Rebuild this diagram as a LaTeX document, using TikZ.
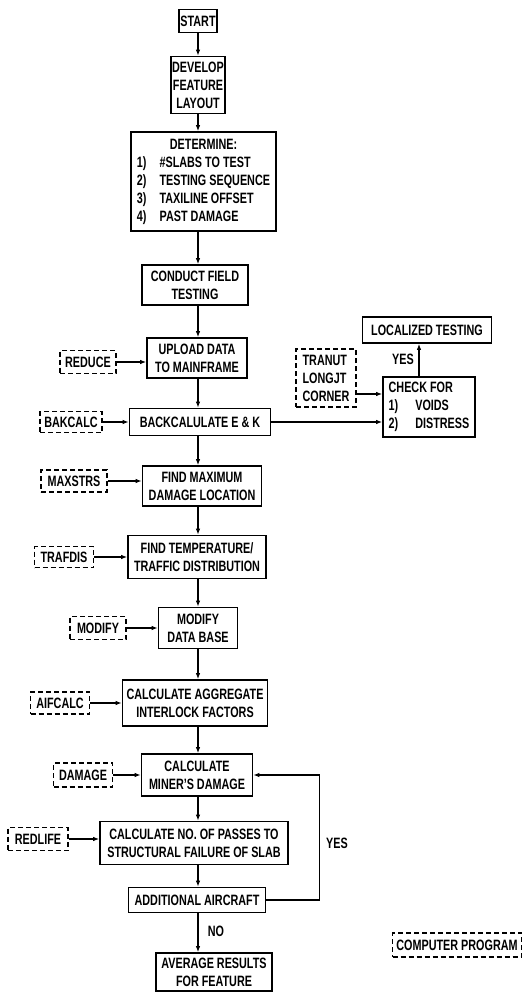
\documentclass[tikz,border=0pt]{standalone}
\usepackage{fontspec}
\setmainfont{Liberation Sans}[FakeStretch=0.72]
\usetikzlibrary{arrows.meta,positioning}
\newcommand{\chartfont}{\fontsize{15}{18}\selectfont\bfseries}
\tikzset{
  proc/.style    = {rectangle, draw, line width=1.7pt, align=center,
                    inner sep=1.5pt, font=\chartfont},
  prog/.style    = {proc, dash pattern=on 5pt off 3pt},
  boxsize/.style 2 args = {minimum width=#1, minimum height=#2},
  lbl/.style     = {font=\chartfont, inner sep=0pt},
  arr/.style     = {-{Latex[length=6pt,width=4.5pt]}, line width=1.1pt}
}

\begin{document}
\begin{tikzpicture}[x=1pt, y=-1pt]
  \useasboundingbox (0,0) rectangle (524,992);
  % main column
  \node[proc, boxsize={36pt}{23pt}] (start) at (198,21) {START};
  \node[proc, boxsize={51pt}{57pt}] (develop) at (198,85) {DEVELOP\\FEATURE\\LAYOUT};
  \node[proc, boxsize={145pt}{99pt}] (determine) at (203.5,181.5)
       {\begin{tabular}{@{}l@{\hspace{13pt}}l@{}}
        \multicolumn{2}{c}{DETERMINE:}\\
        1) & \#SLABS TO TEST\\
        2) & TESTING SEQUENCE\\
        3) & TAXILINE OFFSET\\
        4) & PAST DAMAGE
        \end{tabular}};
  \node[proc, boxsize={106pt}{40pt}] (conduct) at (195,285) {CONDUCT FIELD\\TESTING};
  \node[proc, boxsize={100pt}{40pt}] (upload) at (197,358) {UPLOAD DATA\\TO MAINFRAME};
  \node[proc, boxsize={141pt}{27pt}] (backcalc) at (200,422) {BACKCALULATE E \& K};
  \node[proc, boxsize={119pt}{40pt}] (findmax) at (202,486) {FIND MAXIMUM\\DAMAGE LOCATION};
  \node[proc, boxsize={138pt}{43pt}] (findtemp) at (197,557) {FIND TEMPERATURE/\\TRAFFIC DISTRIBUTION};
  \node[proc, boxsize={79pt}{41pt}] (modify) at (198,628) {MODIFY\\DATA BASE};
  \node[proc, boxsize={145pt}{46pt}] (aggregate) at (195,703) {CALCULATE AGGREGATE\\INTERLOCK FACTORS};
  \node[proc, boxsize={111pt}{42pt}] (miner) at (197,775) {CALCULATE\\MINER'S DAMAGE};
  \node[proc, boxsize={188pt}{43pt}] (passes) at (194,843) {CALCULATE NO. OF PASSES TO\\STRUCTURAL FAILURE OF SLAB};
  \node[proc, boxsize={137pt}{25pt}] (additional) at (197,900) {ADDITIONAL AIRCRAFT};
  \node[proc, boxsize={116pt}{38pt}] (average) at (214,972) {AVERAGE RESULTS\\FOR FEATURE};

  % computer programs
  \node[prog, boxsize={56pt}{23pt}] (reduce) at (88,362) {REDUCE};
  \node[prog, boxsize={62pt}{21pt}] (bakcalc) at (71,422) {BAKCALC};
  \node[prog, boxsize={66pt}{22pt}] (maxstrs) at (74,481) {MAXSTRS};
  \node[prog, boxsize={59pt}{21pt}] (trafdis) at (64,557) {TRAFDIS};
  \node[prog, boxsize={56pt}{23pt}] (modprog) at (98,628) {MODIFY};
  \node[prog, boxsize={59pt}{22pt}] (aifcalc) at (60,703) {AIFCALC};
  \node[prog, boxsize={59pt}{24pt}] (dmgprog) at (83,775) {DAMAGE};
  \node[prog, boxsize={60pt}{23pt}] (redlife) at (38,839) {REDLIFE};
  \node[prog, boxsize={60pt}{58pt}, align=left] (tranut) at (326,378) {TRANUT\\LONGJT\\CORNER};
  \node[prog, boxsize={129pt}{24pt}] (legend) at (457,945) {COMPUTER PROGRAM};

  % side branch
  \node[proc, boxsize={92pt}{60pt}] (check) at (429,407)
       {\begin{tabular}{@{}l@{\hspace{17pt}}l@{}}
        \multicolumn{2}{@{}l@{}}{CHECK FOR}\\
        1) & VOIDS\\
        2) & DISTRESS
        \end{tabular}};
  \node[proc, boxsize={129pt}{26pt}] (localized) at (427,330) {LOCALIZED TESTING};

  % labels
  \node[lbl] (yes1) at (403,359) {YES};
  \node[lbl] (yes2) at (337,843) {YES};
  \node[lbl] (no) at (216,931) {NO};

  \foreach \a/\b in {start/develop,develop/determine,determine/conduct,
                     conduct/upload,upload/backcalc,backcalc/findmax,
                     findmax/findtemp,findtemp/modify,modify/aggregate,
                     aggregate/miner,miner/passes,passes/additional,
                     additional/average}
    \draw[arr] (\a.south -| start) -- (\b.north -| start);
  \foreach \a/\b in {reduce/upload,bakcalc/backcalc,maxstrs/findmax,
                     trafdis/findtemp,modprog/modify,aifcalc/aggregate,
                     dmgprog/miner,redlife/passes}
    \draw[arr] (\a.east) -- (\a.east -| \b.west);

  \draw[arr] (backcalc.east) -- (backcalc.east -| check.west);
  \draw[arr] ([yshift=-16pt]tranut.east) -- ([yshift=-16pt]tranut.east -| check.west);
  \draw[arr] ([xshift=-10pt]check.north) -- ([xshift=-10pt]check.north |- localized.south);
  \draw[arr] (additional.east) -- ++(53,0) |- (miner.east);
\end{tikzpicture}
\end{document}
